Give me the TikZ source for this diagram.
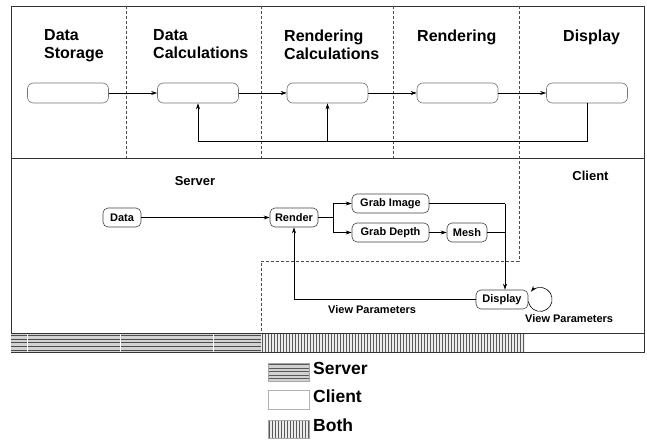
\documentclass[tikz,border=0pt]{standalone}
\usepackage{fontspec}
\setmainfont{Liberation Sans}
\usetikzlibrary{arrows.meta}
\begin{document}
\begin{tikzpicture}[x=1pt,y=-1pt,
 hdr/.style={font=\fontsize{16}{18}\selectfont\bfseries, align=left, anchor=north west, inner sep=0pt},
 stage/.style={draw=black!55, rounded corners=6pt, minimum width=81pt, minimum height=20pt, line width=0.6pt, inner sep=0pt},
 proc/.style={draw=black!75, rounded corners=5pt, inner sep=0pt, minimum height=19pt, font=\fontsize{11}{12}\selectfont\bfseries, line width=0.6pt},
 lbl/.style={font=\fontsize{11}{12}\selectfont\bfseries, anchor=base west, inner sep=0pt},
 sec/.style={font=\fontsize{13}{14}\selectfont\bfseries, anchor=base, inner sep=0pt},
 leg/.style={font=\fontsize{17.5}{18}\selectfont\bfseries, anchor=base west, inner sep=0pt},
 arr/.style={-{Stealth[length=6pt,width=4pt]}, line width=0.6pt},
 ln/.style={line width=0.6pt},
 dsh/.style={black!70, line width=0.5pt, dash pattern=on 3pt off 2pt}]
\useasboundingbox (0,0) rectangle (647,441);

% frame and section lines
\draw[line width=0.7pt, black!80] (11,6) rectangle (644,352);
\draw[line width=0.7pt, black!80] (11,158) -- (644,158);
\draw[line width=0.7pt, black!80] (11,333) -- (644,333);

% dashed separators
\draw[dsh] (126,6) -- (126,158);
\draw[dsh] (261,6) -- (261,158);
\draw[dsh] (393,6) -- (393,158);
\draw[dsh] (519,6) -- (519,261) -- (261,261) -- (261,333);

% headers
\node[hdr] (h1) at (44,29.5) {Data\\Storage};
\node[hdr] (h2) at (153,29.5) {Data\\Calculations};
\node[hdr] (h3) at (284,29.5) {Rendering\\Calculations};
\node[hdr] (h4) at (417,29.5) {Rendering};
\node[hdr] (h5) at (563,29.5) {Display};

% stage boxes
\node[stage] (s1) at (68,93) {};
\node[stage] (s2) at (198,93) {};
\node[stage] (s3) at (327.5,93) {};
\node[stage] (s4) at (457.5,93) {};
\node[stage] (s5) at (587,93) {};
\draw[arr] (s1) -- (s2);
\draw[arr] (s2) -- (s3);
\draw[arr] (s3) -- (s4);
\draw[arr] (s4) -- (s5);
\coordinate (fbline) at (0,141);
\draw[ln] (s5.south) -- (s5.south |- fbline) -- (s2.south |- fbline);
\draw[arr] (s2.south |- fbline) -- (s2.south);
\draw[arr] (s3.south |- fbline) -- (s3.south);

% section labels
\node[sec] (srv) at (195,185) {Server};
\node[sec] (cli) at (590.5,180) {Client};

% process nodes
\node[proc, minimum width=38pt] (data) at (122,217.5) {Data};
\node[proc, minimum width=48pt] (render) at (294,217.5) {Render};
\node[proc, minimum width=77pt] (gimg) at (390.5,203.5) {Grab Image};
\node[proc, minimum width=77pt] (gdep) at (390.5,232.5) {Grab Depth};
\node[proc, minimum width=40pt] (mesh) at (467,232.5) {Mesh};
\node[proc, minimum width=52pt] (disp) at (502,299.5) {Display};

\draw[arr] (data) -- (render);
\coordinate (br) at (333,217.5);
\draw[ln] (render.east) -- (br);
\draw[arr] (br) |- (gimg.west);
\draw[arr] (br) |- (gdep.west);
\draw[arr] (gdep) -- (mesh);
\coordinate (jn) at (505,203.5);
\draw[ln] (gimg.east) -- (jn);
\draw[arr] (jn) -- (jn |- disp.north);
\draw[ln] (mesh.east) -- (mesh.east -| jn);
\draw[arr] (disp.west) -| (render.south);
\draw[arr] (disp.east) ++(0,2) arc[start angle=170, end angle=-140, radius=12];

\node[lbl] (vp1) at (328,313.3) {View Parameters};
\node[lbl] (vp2) at (525,322.3) {View Parameters};

% bottom bar: server part
\fill[gray!35] (11,333) rectangle (261,352);
\foreach \yy in {335,339,342.8,346.7,350.6}
  \draw[black!70, line width=0.9pt] (11,\yy) -- (261,\yy);
\foreach \xx in {27,120,213}
  \draw[white, line width=0.8pt] (\xx,334) -- (\xx,351.5);
% bottom bar: both part
\fill[gray!15] (261,333.4) rectangle (525,352);
\foreach \xx in {262.5,265.5,...,525}
  \draw[black!65, line width=0.8pt] (\xx,333.5) -- (\xx,352);
\draw[line width=0.7pt, black!80] (11,333) -- (644,333);
\draw[line width=0.7pt, black!80] (11,352) -- (644,352);

% legend
\fill[gray!35] (268,363) rectangle (309,381);
\foreach \yy in {364.5,368,371.5,375,378.5}
  \draw[black!65, line width=0.9pt] (268,\yy) -- (309,\yy);
\draw[gray!70, line width=0.5pt] (268,363) rectangle (309,381);
\node[leg] (lserver) at (313,374) {Server};

\draw[gray!60, line width=0.6pt] (268,390) rectangle (309,409);
\node[leg] (lclient) at (313,402.7) {Client};

\fill[gray!15] (268,420) rectangle (309,438);
\foreach \xx in {269.5,272.5,...,309}
  \draw[black!65, line width=0.8pt] (\xx,420) -- (\xx,438);
\draw[gray!70, line width=0.5pt] (268,420) rectangle (309,438);
\node[leg] (lboth) at (313,431.7) {Both};
\end{tikzpicture}
\end{document}
